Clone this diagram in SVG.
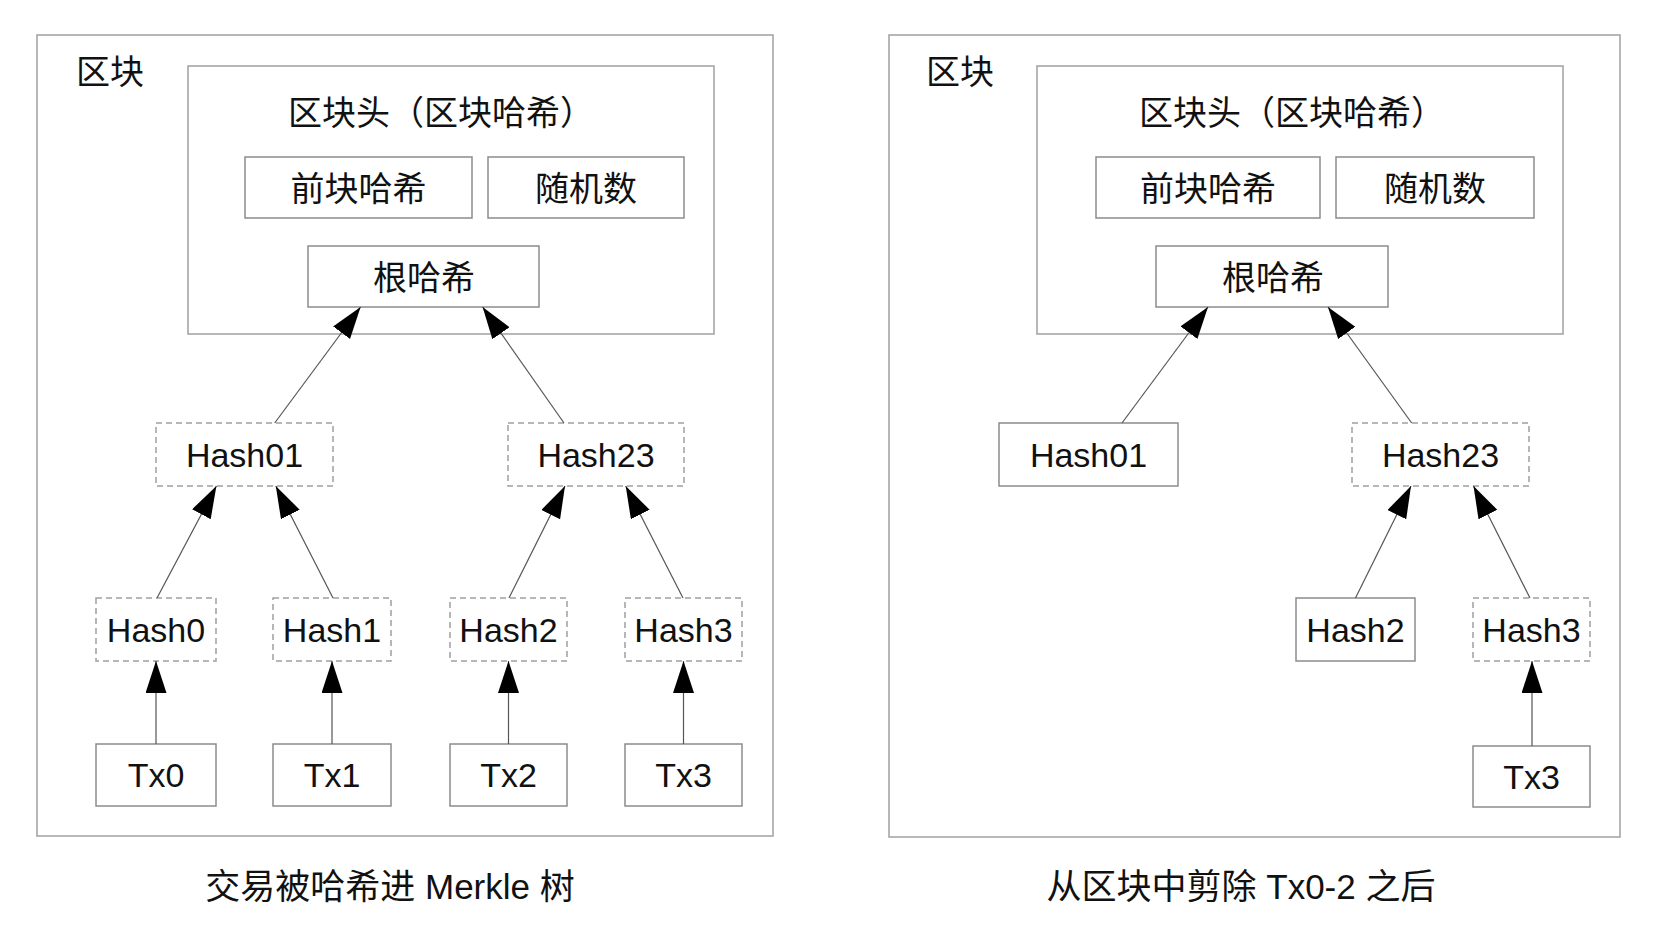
<svg xmlns="http://www.w3.org/2000/svg" width="1663" height="945" viewBox="0 0 1663 945">
<defs>
<style>
.bg{fill:#ffffff}
.frame{fill:none;stroke:#a0a0a0;stroke-width:1.5}
.box{fill:#ffffff;stroke:#8c8c8c;stroke-width:1.5}
.dash{fill:#ffffff;stroke:#a0a0a0;stroke-width:1.5;stroke-dasharray:6 4}
.cn{font-family:"Noto Sans CJK SC","Liberation Sans",sans-serif;font-size:34px;fill:#111}
.lat{font-family:"Liberation Sans","Noto Sans CJK SC",sans-serif;font-size:34px;fill:#111;text-anchor:middle}
.mid{text-anchor:middle}
.cap{font-family:"Liberation Sans","Noto Sans CJK SC",sans-serif;font-size:35px;fill:#111;text-anchor:middle}
.edge{stroke:#555;stroke-width:1.2;fill:none;marker-end:url(#arr)}
</style>
<marker id="arr" markerUnits="userSpaceOnUse" markerWidth="34" markerHeight="24" refX="32" refY="10.5" orient="auto">
<path d="M0,0 L32,10.5 L0,21 z" fill="#000"/>
</marker>
</defs>
<rect class="bg" x="0" y="0" width="1663" height="945"/>

<g id="left-panel">
<rect class="frame" x="37" y="35" width="736" height="801"/>
<text class="cn" x="76" y="84">区块</text>
</g>
<g id="left-header">
<rect class="frame" x="188" y="66" width="526" height="268"/>
<text class="cn" x="288" y="125">区块头（区块哈希）</text>
</g>
<g id="left-prev"><rect class="box" x="245" y="157" width="227" height="61"/><text class="cn mid" x="358.5" y="201">前块哈希</text></g>
<g id="left-nonce"><rect class="box" x="488" y="157" width="196" height="61"/><text class="cn mid" x="586" y="201">随机数</text></g>
<g id="left-root"><rect class="box" x="308" y="246" width="231" height="61"/><text class="cn mid" x="424" y="290">根哈希</text></g>
<g id="left-hash01"><rect class="dash" x="156" y="423" width="177" height="63"/><text class="lat" x="244.5" y="467">Hash01</text></g>
<g id="left-hash23"><rect class="dash" x="508" y="423" width="176" height="63"/><text class="lat" x="596" y="467">Hash23</text></g>
<g id="left-hash0"><rect class="dash" x="96" y="598" width="120" height="63"/><text class="lat" x="156" y="642">Hash0</text></g>
<g id="left-hash1"><rect class="dash" x="273" y="598" width="118" height="63"/><text class="lat" x="332" y="642">Hash1</text></g>
<g id="left-hash2"><rect class="dash" x="450" y="598" width="117" height="63"/><text class="lat" x="508.5" y="642">Hash2</text></g>
<g id="left-hash3"><rect class="dash" x="625" y="598" width="117" height="63"/><text class="lat" x="683.5" y="642">Hash3</text></g>
<g id="left-tx0"><rect class="box" x="96" y="744" width="120" height="62"/><text class="lat" x="156" y="787">Tx0</text></g>
<g id="left-tx1"><rect class="box" x="273" y="744" width="118" height="62"/><text class="lat" x="332" y="787">Tx1</text></g>
<g id="left-tx2"><rect class="box" x="450" y="744" width="117" height="62"/><text class="lat" x="508.5" y="787">Tx2</text></g>
<g id="left-tx3"><rect class="box" x="625" y="744" width="117" height="62"/><text class="lat" x="683.5" y="787">Tx3</text></g>
<g id="left-caption"><text class="cap" x="390" y="899">交易被哈希进 Merkle 树</text></g>

<g id="right-panel">
<rect class="frame" x="889" y="35" width="731" height="802"/>
<text class="cn" x="926" y="84">区块</text>
</g>
<g id="right-header">
<rect class="frame" x="1037" y="66" width="526" height="268"/>
<text class="cn" x="1139" y="125">区块头（区块哈希）</text>
</g>
<g id="right-prev"><rect class="box" x="1096" y="157" width="224" height="61"/><text class="cn mid" x="1208" y="201">前块哈希</text></g>
<g id="right-nonce"><rect class="box" x="1336" y="157" width="198" height="61"/><text class="cn mid" x="1435" y="201">随机数</text></g>
<g id="right-root"><rect class="box" x="1156" y="246" width="232" height="61"/><text class="cn mid" x="1273" y="290">根哈希</text></g>
<g id="right-hash01"><rect class="box" x="999" y="423" width="179" height="63"/><text class="lat" x="1088.5" y="467">Hash01</text></g>
<g id="right-hash23"><rect class="dash" x="1352" y="423" width="177" height="63"/><text class="lat" x="1440.5" y="467">Hash23</text></g>
<g id="right-hash2"><rect class="box" x="1296" y="598" width="119" height="63"/><text class="lat" x="1355.5" y="642">Hash2</text></g>
<g id="right-hash3"><rect class="dash" x="1473" y="598" width="117" height="63"/><text class="lat" x="1531.5" y="642">Hash3</text></g>
<g id="right-tx3"><rect class="box" x="1473" y="746" width="117" height="61"/><text class="lat" x="1531.5" y="789">Tx3</text></g>
<g id="right-caption"><text class="cap" x="1241" y="899">从区块中剪除 Tx0-2 之后</text></g>

<g id="connectors">
<line class="edge" x1="274.7" y1="423" x2="360.6" y2="307"/>
<line class="edge" x1="564" y1="423" x2="482.6" y2="307"/>
<line class="edge" x1="157" y1="598" x2="216.4" y2="486"/>
<line class="edge" x1="333" y1="598" x2="275.8" y2="486"/>
<line class="edge" x1="509" y1="598" x2="565" y2="486"/>
<line class="edge" x1="683" y1="598" x2="625.7" y2="486"/>
<line class="edge" x1="156" y1="744" x2="156" y2="661"/>
<line class="edge" x1="332" y1="744" x2="332" y2="661"/>
<line class="edge" x1="508.5" y1="744" x2="508.5" y2="661"/>
<line class="edge" x1="683.5" y1="744" x2="683.5" y2="661"/>
<line class="edge" x1="1122" y1="423" x2="1208" y2="307"/>
<line class="edge" x1="1411.7" y1="423" x2="1328" y2="307"/>
<line class="edge" x1="1355.5" y1="598" x2="1411" y2="486"/>
<line class="edge" x1="1530" y1="598" x2="1473.5" y2="486"/>
<line class="edge" x1="1532" y1="746" x2="1532" y2="661"/>
</g>
</svg>
